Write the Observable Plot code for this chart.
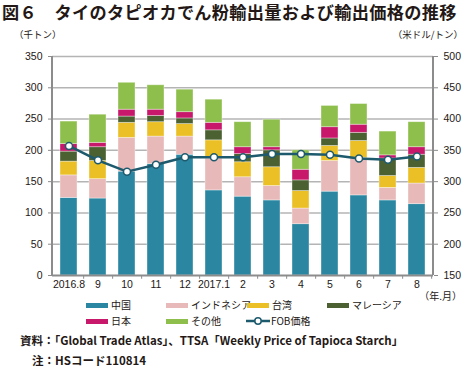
<!DOCTYPE html>
<html><head><meta charset="utf-8">
<script src="https://cdn.jsdelivr.net/npm/d3@7"></script>
<script src="https://cdn.jsdelivr.net/npm/@observablehq/plot@0.6"></script>
<style>
body{margin:0;background:#fff;}
#wrap{position:relative;width:464px;height:368px;overflow:hidden;font-family:"Noto Sans CJK JP",sans-serif;color:#231815;}
.abs{position:absolute;white-space:nowrap;line-height:1.3;}
#title{left:2px;top:1px;font-size:17.2px;line-height:22px;font-weight:bold;letter-spacing:0.3px;}
.unit{font-size:9.5px;top:28px;}
.leg{font-size:10px;}
.sw{position:absolute;width:22px;height:5px;}
.cap{font-size:11.5px;font-weight:bold;}
#chart{position:absolute;left:0;top:28px;}
</style></head>
<body><div id="wrap">
<div id="title" class="abs">図６　タイのタピオカでん粉輸出量および輸出価格の推移</div>
<div class="abs unit" style="left:14px">（千トン）</div>
<div class="abs unit" style="right:1px">（米ドル/トン）</div>
<div id="chart"></div>
<div class="abs leg" style="right:2px;top:289px">（年.月）</div>
<div id="legend"></div>
<div class="abs cap" style="left:20px;top:333px">資料：「Global Trade Atlas」、TTSA「Weekly Price of Tapioca Starch」</div>
<div class="abs cap" style="left:32px;top:353px">注：HSコード110814</div>
</div>
<script>
const months = ["2016.8","9","10","11","12","2017.1","2","3","4","5","6","7","8"];
const seriesNames = ["中国","インドネシア","台湾","マレーシア","日本","その他"];
const seriesColors = ["#2b87a1","#e8b9b9","#ebc026","#4b6131","#c8186b","#8ebf4c"];
const china     = [124,123,166,178,193,136,126,120, 82,134,128,120,114];
const indonesia = [ 36, 31, 54, 44, 29, 51, 31, 23, 25, 49, 60, 20, 33];
const taiwan    = [ 22, 29, 24, 23, 20, 29, 24, 30, 28, 24, 27, 19, 25];
const malaysia  = [ 16, 22, 10, 10,  9, 16, 13, 27, 17, 12, 13, 28, 21];
const japan     = [ 12,  7, 11, 10, 10, 12, 11,  5, 17, 18, 13,  5, 12];
const others    = [ 36, 45, 43, 39, 36, 37, 40, 44, 31, 34, 33, 38, 40];
const fobPrice  = [357,334,316,327,339,339,339,344,344,343,337,335,340];
const leftTicks = [0,50,100,150,200,250,300,350];
const priceOffset = 150; // right axis 150–500 maps onto left axis 0–350

const seriesValues = [china, indonesia, taiwan, malaysia, japan, others];
const rows = [];
months.forEach((m, i) => seriesNames.forEach((s, j) => rows.push({month: m, series: s, value: seriesValues[j][i]})));
const fobRows = months.map((m, i) => ({month: m, price: fobPrice[i]}));

const lineColor = "#1d5a6d";
const axisColor = "#8c8c8c";

const W = 464, mL = 52, mR = 31;
const step = (W - mL - mR) / months.length;

const chart = Plot.plot({
  width: W, height: 267,
  marginLeft: mL, marginRight: mR, marginTop: 28, marginBottom: 20,
  style: {fontFamily: "'Liberation Sans', Arial, sans-serif", fontSize: "10.5px", color: "#231815", background: "transparent"},
  x: {type: "band", domain: months, paddingInner: 0.42, paddingOuter: 0.21, label: null},
  y: {domain: [0, 350], label: null},
  color: {domain: seriesNames, range: seriesColors},
  marks: [
    Plot.ruleY(leftTicks.slice(1), {stroke: "#b4b4b4", strokeWidth: 1.5}),
    Plot.barY(rows, Plot.stackY({order: null}, {x: "month", y: "value", fill: "series", stroke: "#ffffff", strokeOpacity: 0.45, strokeWidth: 0.8})),
    Plot.ruleY([0], {stroke: axisColor, strokeWidth: 2}),
    Plot.ruleX(months, {x: d => d, dx: step / 2, y1: 0, y2: -6, stroke: axisColor, strokeWidth: 1}),
    Plot.axisY({anchor: "left", ticks: leftTicks, tickSize: 4, tickPadding: 6, stroke: axisColor, label: null}),
    Plot.axisY({anchor: "right", ticks: leftTicks, tickFormat: d => d + priceOffset, tickSize: 4, tickPadding: 6, stroke: axisColor, label: null}),
    Plot.axisX({tickSize: 0, tickPadding: 5, label: null}),
    Plot.line(fobRows, {x: "month", y: d => d.price - priceOffset, stroke: lineColor, strokeWidth: 2.5}),
    Plot.dot(fobRows, {x: "month", y: d => d.price - priceOffset, r: 3.5, fill: "white", stroke: lineColor, strokeWidth: 1.5})
  ]
});
document.getElementById("chart").appendChild(chart);
// left/right axis lines
const svg = d3.select(chart);
[mL, W - mR].forEach(x => svg.append("line").attr("x1", x).attr("x2", x).attr("y1", 28).attr("y2", 247).attr("stroke", axisColor).attr("stroke-width", 2));

// legend
const legendItems = [
  {label: "中国", color: seriesColors[0], x: 86, y: 298},
  {label: "インドネシア", color: seriesColors[1], x: 166, y: 298},
  {label: "台湾", color: seriesColors[2], x: 247, y: 298},
  {label: "マレーシア", color: seriesColors[3], x: 327, y: 298},
  {label: "日本", color: seriesColors[4], x: 86, y: 314},
  {label: "その他", color: seriesColors[5], x: 166, y: 314},
];
const leg = document.getElementById("legend");
legendItems.forEach(it => {
  const sw = document.createElement("div");
  sw.className = "sw"; sw.style.left = it.x + "px"; sw.style.top = (it.y + 4.5) + "px"; sw.style.background = it.color;
  leg.appendChild(sw);
  const t = document.createElement("div");
  t.className = "abs leg"; t.style.left = (it.x + 25) + "px"; t.style.top = it.y + "px"; t.textContent = it.label;
  leg.appendChild(t);
});
const fobSw = document.createElementNS("http://www.w3.org/2000/svg", "svg");
fobSw.setAttribute("width", 26); fobSw.setAttribute("height", 10);
fobSw.style.position = "absolute"; fobSw.style.left = "246px"; fobSw.style.top = "316px";
fobSw.innerHTML = `<line x1="0" x2="24" y1="5" y2="5" stroke="${lineColor}" stroke-width="2.5"/><circle cx="12" cy="5" r="3.2" fill="white" stroke="${lineColor}" stroke-width="1.5"/>`;
leg.appendChild(fobSw);
const ft = document.createElement("div");
ft.className = "abs leg"; ft.style.left = "271px"; ft.style.top = "314px"; ft.textContent = "FOB価格";
leg.appendChild(ft);
</script>
</body></html>
